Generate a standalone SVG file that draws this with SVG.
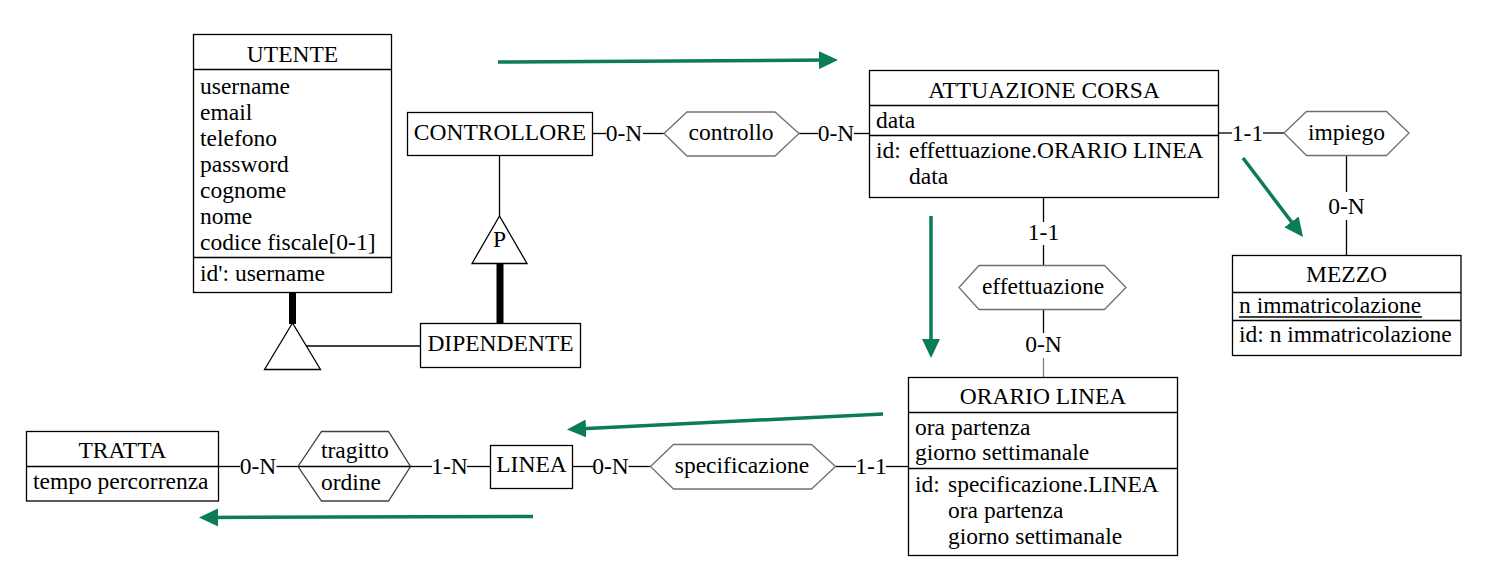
<svg xmlns="http://www.w3.org/2000/svg" width="1506" height="572" viewBox="0 0 1506 572">
<style>
text{font-family:"Liberation Serif","Times New Roman",serif;font-size:23.5px;fill:#000}
.c{text-anchor:middle}
.box{fill:#fff;stroke:#000;stroke-width:1.3}
.sep{stroke:#000;stroke-width:1.3}
.hex{fill:#fff;stroke:#707070;stroke-width:1.3}
.hexd{fill:#fff;stroke:#404040;stroke-width:1.3}
.ln{stroke:#000;stroke-width:1.3;fill:none}
.lng{stroke:#808080;stroke-width:1.3;fill:none}
.thick{stroke:#000;stroke-width:7}
.tri{fill:#fff;stroke:#000;stroke-width:1.3}
.ga{stroke:#0c7c56;stroke-width:3.5;fill:none;marker-end:url(#ah)}
</style>
<defs>
<marker id="ah" viewBox="0 0 19 18" refX="9" refY="9" markerWidth="19" markerHeight="18" markerUnits="userSpaceOnUse" orient="auto">
<path d="M0,0 L19,9 L0,18 z" fill="#0c7c56"/>
</marker>
</defs>
<rect width="1506" height="572" fill="#fff"/>

<g id="connectors">
<!-- UTENTE / DIPENDENTE generalization -->
<line class="thick" x1="292.5" y1="292" x2="292.5" y2="324"/>
<line class="ln" x1="306" y1="346" x2="420.5" y2="346"/>
<!-- CONTROLLORE / DIPENDENTE partial generalization -->
<line class="ln" x1="499.5" y1="155.5" x2="499.5" y2="216"/>
<line class="thick" x1="500" y1="263" x2="500" y2="324"/>
<!-- controllo -->
<line class="ln" x1="592.5" y1="133.5" x2="606" y2="133.5"/>
<text class="c" x="624" y="141">0-N</text>
<line class="ln" x1="643" y1="133.5" x2="664" y2="133.5"/>
<line class="ln" x1="799" y1="133.5" x2="818" y2="133.5"/>
<text class="c" x="836" y="141">0-N</text>
<line class="ln" x1="854" y1="133.5" x2="869.5" y2="133.5"/>
<!-- impiego -->
<line class="ln" x1="1218.5" y1="133" x2="1232" y2="133"/>
<text class="c" x="1247.5" y="141">1-1</text>
<line class="ln" x1="1263" y1="133" x2="1284" y2="133"/>
<line class="ln" x1="1346.5" y1="155.5" x2="1346.5" y2="192"/>
<text class="c" x="1346.5" y="214">0-N</text>
<line class="ln" x1="1346.5" y1="220" x2="1346.5" y2="255.5"/>
<!-- effettuazione -->
<line class="ln" x1="1043.5" y1="197.5" x2="1043.5" y2="222"/>
<text class="c" x="1043.5" y="239.5">1-1</text>
<line class="ln" x1="1043.5" y1="245" x2="1043.5" y2="265.5"/>
<line class="ln" x1="1043.5" y1="309.5" x2="1043.5" y2="333"/>
<text class="c" x="1043.5" y="352">0-N</text>
<line class="lng" x1="1043.5" y1="358" x2="1043.5" y2="377.5"/>
<!-- specificazione -->
<line class="ln" x1="572.5" y1="466.5" x2="593" y2="466.5"/>
<text class="c" x="610.5" y="474">0-N</text>
<line class="ln" x1="628.5" y1="466.5" x2="650.5" y2="466.5"/>
<line class="ln" x1="835.5" y1="466.5" x2="856" y2="466.5"/>
<text class="c" x="871" y="474">1-1</text>
<line class="ln" x1="886" y1="466.5" x2="908.5" y2="466.5"/>
<!-- tragitto -->
<line class="ln" x1="218.5" y1="466.5" x2="240" y2="466.5"/>
<text class="c" x="258" y="474">0-N</text>
<line class="ln" x1="276.5" y1="466.5" x2="298" y2="466.5"/>
<line class="ln" x1="410.5" y1="466.5" x2="432" y2="466.5"/>
<text class="c" x="449.5" y="474">1-N</text>
<line class="ln" x1="467" y1="466.5" x2="490.5" y2="466.5"/>
</g>

<g id="green-arrows">
<line class="ga" x1="498" y1="62" x2="828" y2="60.06"/>
<line class="ga" x1="931" y1="216" x2="931" y2="348"/>
<line class="ga" x1="1243" y1="158" x2="1296.95" y2="229.04"/>
<line class="ga" x1="883" y1="414" x2="577" y2="429"/>
<line class="ga" x1="533" y1="516.5" x2="209" y2="517.47"/>
</g>

<g id="gen-utente">
<polygon class="tri" points="292.5,323 264.5,369.5 320.5,369.5"/>
</g>
<g id="gen-controllore">
<polygon class="tri" points="499.5,216 472,263.5 527,263.5"/>
<text class="c" x="499.5" y="247">P</text>
</g>

<g id="UTENTE">
<rect class="box" x="193.5" y="34.5" width="198" height="258"/>
<line class="sep" x1="193.5" y1="69.5" x2="391.5" y2="69.5"/>
<line class="sep" x1="193.5" y1="257.5" x2="391.5" y2="257.5"/>
<text class="c" x="292.5" y="62">UTENTE</text>
<text x="200" y="94">username</text>
<text x="200" y="120">email</text>
<text x="200" y="146">telefono</text>
<text x="200" y="172">password</text>
<text x="200" y="198">cognome</text>
<text x="200" y="224">nome</text>
<text x="200" y="250">codice fiscale[0-1]</text>
<text x="200" y="281">id': username</text>
</g>

<g id="CONTROLLORE">
<rect class="box" x="407.5" y="112.5" width="185" height="43"/>
<text class="c" x="500" y="140">CONTROLLORE</text>
</g>

<g id="DIPENDENTE">
<rect class="box" x="420.5" y="323.5" width="160" height="44"/>
<text class="c" x="500.5" y="351">DIPENDENTE</text>
</g>

<g id="controllo">
<polygon class="hex" points="664,133.5 687,112 775,112 799,133.5 775,156 687,156"/>
<text class="c" x="731" y="140">controllo</text>
</g>

<g id="ATTUAZIONE_CORSA">
<rect class="box" x="869.5" y="70.5" width="349" height="127"/>
<line class="sep" x1="869.5" y1="105.5" x2="1218.5" y2="105.5"/>
<line class="sep" x1="869.5" y1="135.5" x2="1218.5" y2="135.5"/>
<text class="c" x="1044" y="98">ATTUAZIONE CORSA</text>
<text x="876" y="128">data</text>
<text x="876" y="158">id:</text>
<text x="909" y="158">effettuazione.ORARIO LINEA</text>
<text x="909" y="184">data</text>
</g>

<g id="impiego">
<polygon class="hex" points="1284,133 1306.5,111.5 1386.5,111.5 1409,133 1386.5,155.5 1306.5,155.5"/>
<text class="c" x="1346.5" y="139.5">impiego</text>
</g>

<g id="MEZZO">
<rect class="box" x="1232.5" y="255.5" width="228.5" height="100"/>
<line class="sep" x1="1232.5" y1="292.5" x2="1461" y2="292.5"/>
<line class="sep" x1="1232.5" y1="320.5" x2="1461" y2="320.5"/>
<text class="c" x="1346.5" y="282">MEZZO</text>
<text x="1239" y="313">n immatricolazione</text>
<line class="sep" x1="1239" y1="317" x2="1422" y2="317"/>
<text x="1239" y="342">id: n immatricolazione</text>
</g>

<g id="effettuazione">
<polygon class="hex" points="959,287.5 979,265.5 1104.5,265.5 1126,287.5 1104.5,309.5 979,309.5"/>
<text class="c" x="1043" y="294">effettuazione</text>
</g>

<g id="ORARIO_LINEA">
<rect class="box" x="908.5" y="377.5" width="269" height="178"/>
<line class="sep" x1="908.5" y1="412.5" x2="1177.5" y2="412.5"/>
<line class="sep" x1="908.5" y1="468.5" x2="1177.5" y2="468.5"/>
<text class="c" x="1043" y="404">ORARIO LINEA</text>
<text x="915" y="435">ora partenza</text>
<text x="915" y="460">giorno settimanale</text>
<text x="915" y="492">id:</text>
<text x="948" y="492">specificazione.LINEA</text>
<text x="948" y="518">ora partenza</text>
<text x="948" y="544">giorno settimanale</text>
</g>

<g id="specificazione">
<polygon class="hex" points="650.5,466.5 673.5,444.5 811.5,444.5 835.5,466.5 811.5,489 673.5,489"/>
<text class="c" x="742" y="473">specificazione</text>
</g>

<g id="LINEA">
<rect class="box" x="490.5" y="445.5" width="82" height="43"/>
<text class="c" x="531.5" y="472">LINEA</text>
</g>

<g id="tragitto">
<polygon class="hexd" points="298,466.5 321.5,431.5 388.5,431.5 410.5,466.5 388.5,501 321.5,501"/>
<line class="ln" x1="298" y1="466.5" x2="410.5" y2="466.5"/>
<text x="321" y="458">tragitto</text>
<text x="321" y="489.5">ordine</text>
</g>

<g id="TRATTA">
<rect class="box" x="26.5" y="431.5" width="192" height="69.5"/>
<line class="sep" x1="26.5" y1="466.5" x2="218.5" y2="466.5"/>
<text class="c" x="122.5" y="458">TRATTA</text>
<text x="33" y="489">tempo percorrenza</text>
</g>
</svg>
